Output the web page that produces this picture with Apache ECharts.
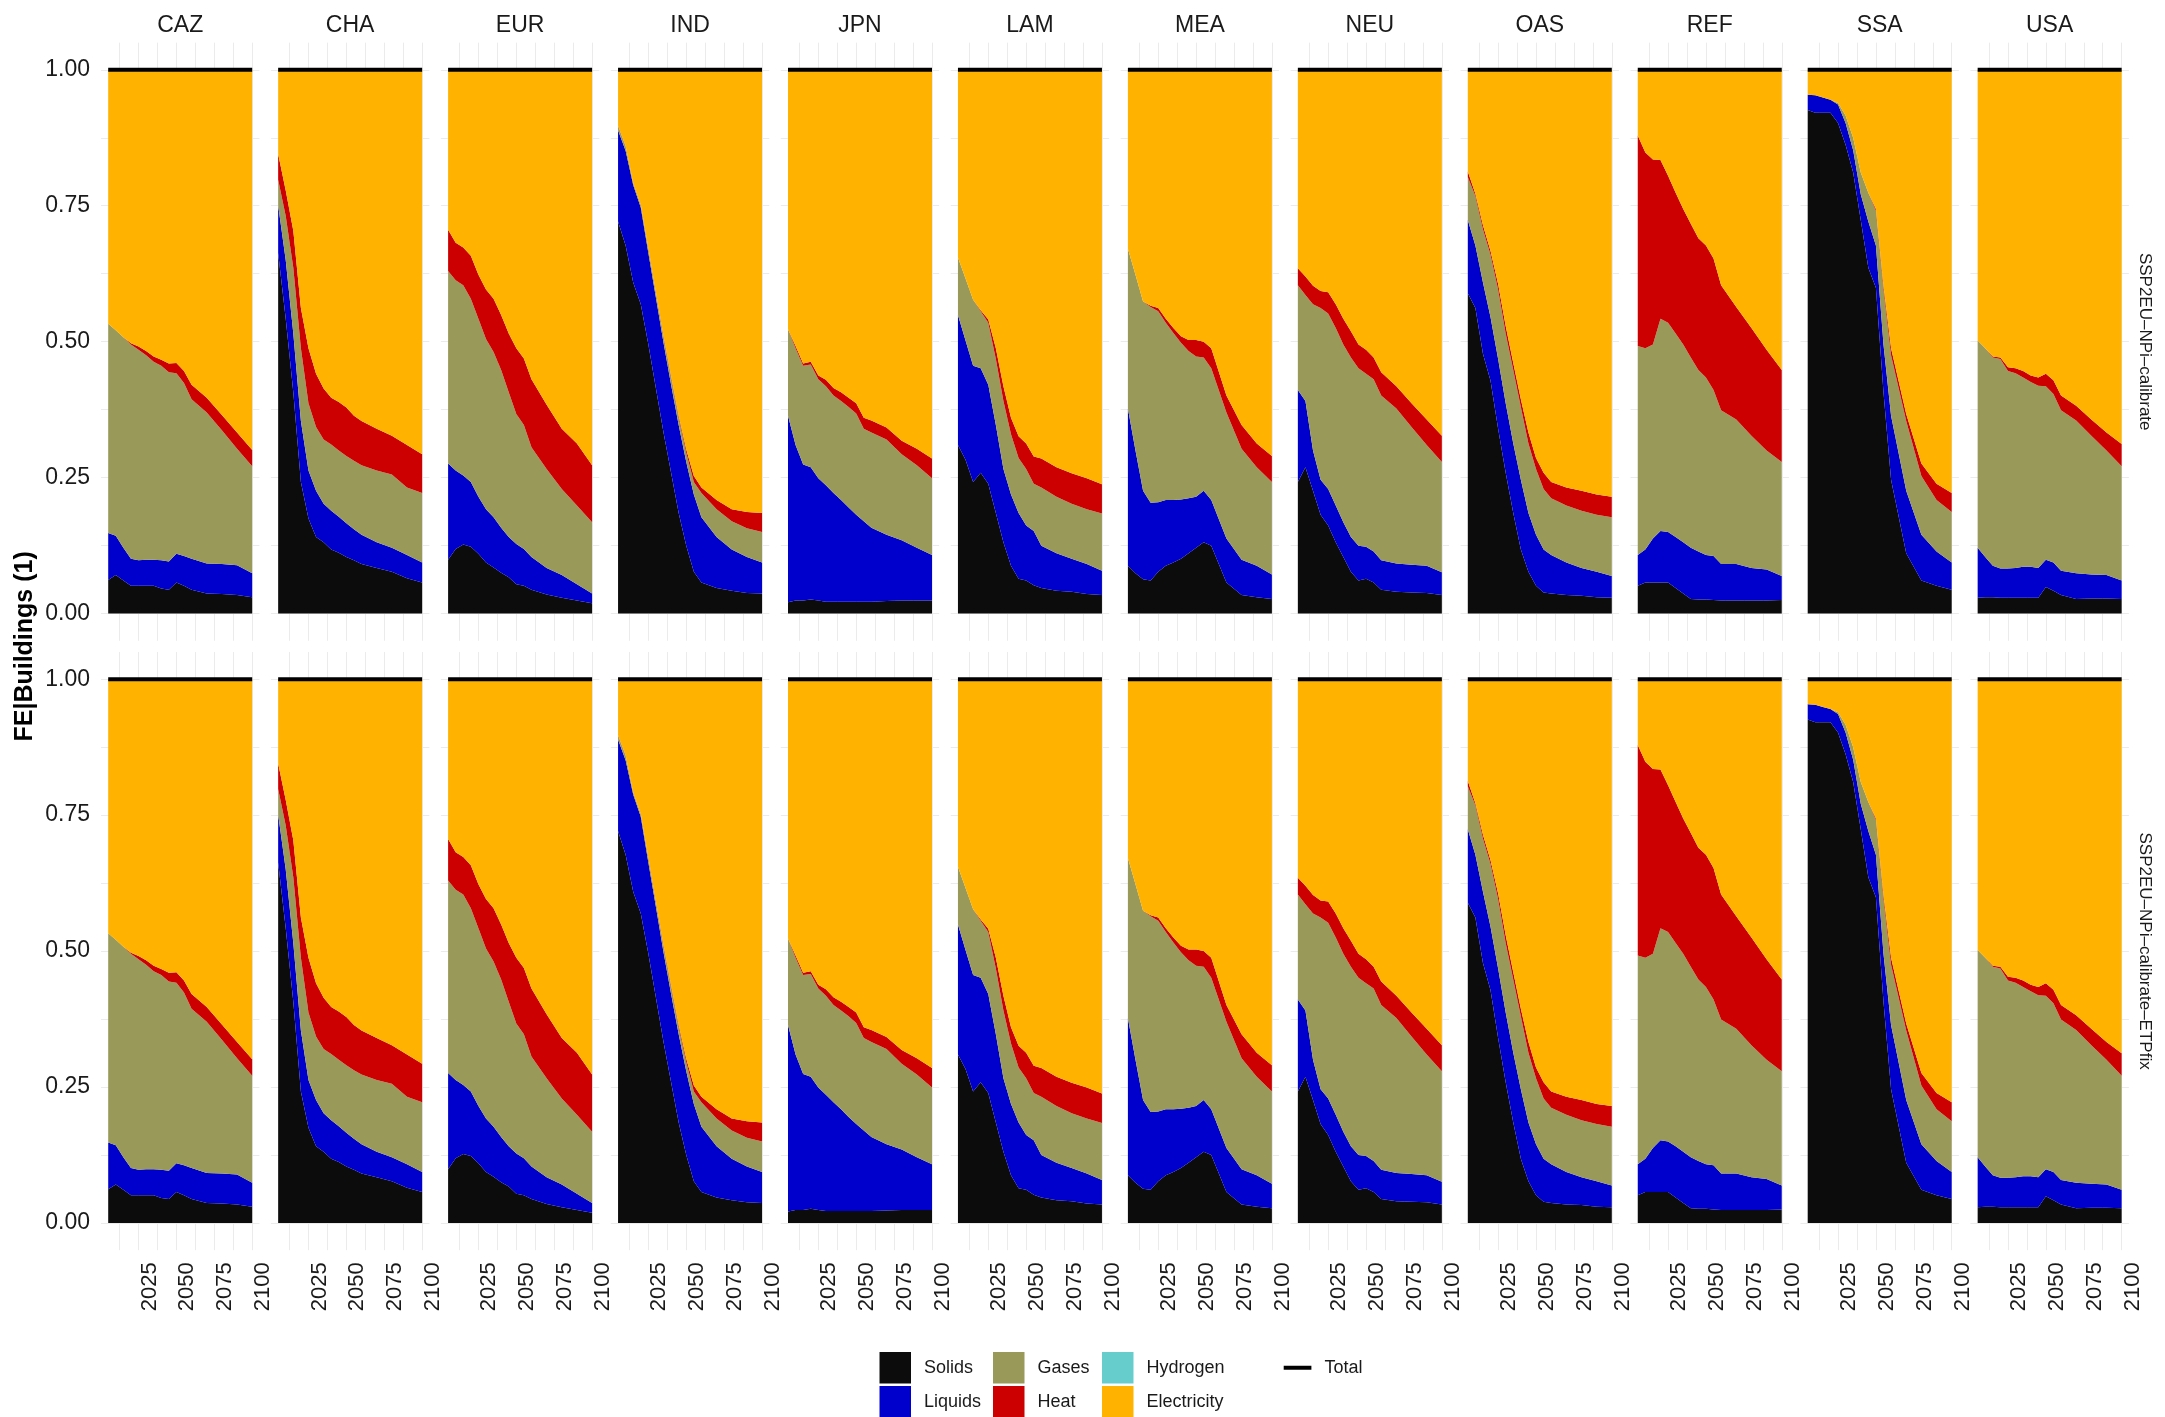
<!DOCTYPE html>
<html><head><meta charset="utf-8">
<script src="https://cdn.jsdelivr.net/npm/echarts@6/dist/echarts.min.js"></script>
<style>html,body{margin:0;padding:0;background:#fff}#chart{width:2165px;height:1417px}</style>
</head><body><div id="chart"></div>
<script>
const years = [2005,2010,2015,2020,2025,2030,2035,2040,2045,2050,2055,2060,2070,2080,2090,2100];
const regions = ['CAZ','CHA','EUR','IND','JPN','LAM','MEA','NEU','OAS','REF','SSA','USA'];
const scenarios = ['SSP2EU–NPi–calibrate','SSP2EU–NPi–calibrate–ETPfix'];
const yTickLabels = [0, 0.25, 0.5, 0.75, 1];
const yGridValues = [0, 0.125, 0.25, 0.375, 0.5, 0.625, 0.75, 0.875, 1];
const xTickLabels = [2025, 2050, 2075, 2100];
const xGridValues = [2012.5, 2025, 2037.5, 2050, 2062.5, 2075, 2087.5, 2100];

const solids = {
  CAZ:[0.062,0.071,0.061,0.051,0.051,0.051,0.051,0.046,0.044,0.057,0.051,0.044,0.037,0.036,0.034,0.030],
  CHA:[0.663,0.542,0.407,0.242,0.175,0.141,0.131,0.118,0.112,0.104,0.098,0.091,0.084,0.077,0.065,0.057],
  EUR:[0.099,0.119,0.127,0.123,0.110,0.094,0.085,0.075,0.067,0.054,0.051,0.044,0.035,0.029,0.024,0.019],
  IND:[0.721,0.677,0.609,0.569,0.495,0.414,0.333,0.259,0.185,0.125,0.077,0.057,0.047,0.042,0.038,0.037],
  JPN:[0.021,0.024,0.024,0.026,0.024,0.022,0.022,0.022,0.022,0.022,0.022,0.022,0.023,0.024,0.024,0.024],
  LAM:[0.310,0.283,0.242,0.259,0.239,0.185,0.131,0.088,0.064,0.061,0.052,0.047,0.042,0.040,0.036,0.034],
  MEA:[0.088,0.074,0.063,0.061,0.077,0.088,0.094,0.101,0.111,0.121,0.131,0.125,0.057,0.034,0.030,0.027],
  NEU:[0.242,0.269,0.226,0.182,0.162,0.131,0.104,0.077,0.061,0.064,0.057,0.044,0.040,0.039,0.038,0.034],
  OAS:[0.589,0.562,0.478,0.428,0.340,0.259,0.185,0.118,0.077,0.051,0.039,0.037,0.034,0.033,0.030,0.029],
  REF:[0.051,0.057,0.057,0.057,0.057,0.047,0.037,0.027,0.026,0.026,0.025,0.024,0.024,0.024,0.024,0.025],
  SSA:[0.926,0.921,0.921,0.921,0.902,0.862,0.811,0.724,0.636,0.599,0.407,0.246,0.111,0.061,0.051,0.044],
  USA:[0.029,0.030,0.030,0.029,0.029,0.029,0.029,0.029,0.029,0.049,0.042,0.034,0.027,0.028,0.028,0.027]
};
const liquids = {
  CAZ:[0.086,0.072,0.060,0.050,0.047,0.048,0.048,0.052,0.052,0.053,0.055,0.057,0.055,0.055,0.055,0.044],
  CHA:[0.088,0.108,0.108,0.112,0.088,0.085,0.071,0.071,0.066,0.062,0.057,0.054,0.047,0.044,0.043,0.037],
  EUR:[0.177,0.144,0.127,0.119,0.105,0.098,0.092,0.083,0.074,0.074,0.068,0.060,0.049,0.042,0.030,0.018],
  IND:[0.168,0.174,0.179,0.178,0.168,0.167,0.165,0.162,0.162,0.154,0.142,0.120,0.094,0.076,0.066,0.057],
  JPN:[0.343,0.286,0.250,0.243,0.225,0.214,0.200,0.187,0.173,0.160,0.148,0.136,0.122,0.111,0.097,0.084],
  LAM:[0.239,0.219,0.214,0.192,0.182,0.162,0.135,0.131,0.121,0.101,0.100,0.078,0.069,0.061,0.055,0.045],
  MEA:[0.289,0.226,0.163,0.143,0.128,0.121,0.115,0.109,0.101,0.094,0.095,0.084,0.081,0.065,0.058,0.045],
  NEU:[0.169,0.122,0.074,0.064,0.067,0.068,0.064,0.064,0.064,0.059,0.057,0.054,0.052,0.051,0.050,0.042],
  OAS:[0.135,0.115,0.131,0.117,0.128,0.128,0.128,0.128,0.108,0.094,0.079,0.071,0.060,0.051,0.047,0.040],
  REF:[0.057,0.061,0.081,0.095,0.093,0.094,0.094,0.094,0.088,0.082,0.081,0.067,0.067,0.060,0.057,0.044],
  SSA:[0.028,0.032,0.028,0.024,0.034,0.040,0.041,0.047,0.085,0.078,0.088,0.118,0.115,0.084,0.063,0.050],
  USA:[0.092,0.074,0.058,0.054,0.054,0.055,0.057,0.057,0.055,0.050,0.052,0.045,0.047,0.044,0.043,0.034]
};
const gases = {
  CAZ:[0.385,0.378,0.387,0.394,0.387,0.376,0.364,0.358,0.348,0.332,0.318,0.293,0.278,0.246,0.214,0.197],
  CHA:[0.047,0.081,0.121,0.134,0.124,0.117,0.118,0.122,0.122,0.124,0.126,0.128,0.132,0.135,0.124,0.128],
  EUR:[0.354,0.350,0.350,0.337,0.327,0.313,0.304,0.290,0.266,0.239,0.228,0.202,0.182,0.158,0.145,0.131],
  IND:[0.007,0.008,0.003,0.004,0.007,0.008,0.010,0.013,0.013,0.017,0.023,0.045,0.051,0.052,0.053,0.056],
  JPN:[0.159,0.178,0.182,0.189,0.182,0.182,0.179,0.182,0.185,0.186,0.170,0.175,0.175,0.158,0.152,0.141],
  LAM:[0.106,0.114,0.121,0.105,0.114,0.121,0.125,0.111,0.101,0.104,0.087,0.107,0.104,0.101,0.101,0.105],
  MEA:[0.294,0.323,0.348,0.360,0.351,0.326,0.307,0.288,0.271,0.258,0.245,0.242,0.232,0.204,0.181,0.170],
  NEU:[0.193,0.195,0.269,0.316,0.323,0.326,0.327,0.330,0.326,0.318,0.317,0.303,0.285,0.253,0.222,0.203],
  OAS:[0.079,0.091,0.098,0.115,0.128,0.128,0.135,0.134,0.128,0.121,0.111,0.104,0.105,0.105,0.105,0.108],
  REF:[0.384,0.370,0.357,0.390,0.385,0.374,0.364,0.350,0.334,0.326,0.305,0.283,0.266,0.243,0.219,0.210],
  SSA:[0.000,0.000,0.000,0.000,0.003,0.014,0.023,0.040,0.053,0.064,0.101,0.111,0.128,0.108,0.095,0.093],
  USA:[0.381,0.384,0.383,0.385,0.363,0.358,0.348,0.340,0.335,0.319,0.310,0.295,0.281,0.255,0.229,0.210]
};
const heat = {
  CAZ:[0.000,0.000,0.000,0.002,0.006,0.008,0.010,0.011,0.016,0.019,0.022,0.027,0.027,0.028,0.030,0.030],
  CHA:[0.047,0.047,0.068,0.074,0.101,0.098,0.094,0.086,0.089,0.089,0.083,0.081,0.077,0.071,0.078,0.071],
  EUR:[0.076,0.069,0.069,0.079,0.081,0.091,0.098,0.101,0.108,0.121,0.122,0.125,0.118,0.111,0.114,0.105],
  IND:[0.001,0.001,0.001,0.001,0.002,0.002,0.003,0.003,0.004,0.006,0.011,0.010,0.017,0.022,0.030,0.035],
  JPN:[0.000,0.004,0.004,0.005,0.007,0.012,0.014,0.016,0.017,0.019,0.020,0.022,0.022,0.025,0.030,0.036],
  LAM:[0.000,0.000,0.000,0.002,0.006,0.020,0.027,0.030,0.040,0.047,0.050,0.053,0.054,0.056,0.057,0.054],
  MEA:[0.000,0.000,0.000,0.002,0.006,0.007,0.009,0.012,0.020,0.030,0.029,0.037,0.031,0.044,0.044,0.048],
  NEU:[0.031,0.034,0.034,0.031,0.039,0.044,0.047,0.048,0.044,0.044,0.040,0.043,0.041,0.044,0.047,0.048],
  OAS:[0.010,0.004,0.007,0.007,0.010,0.014,0.013,0.014,0.020,0.020,0.030,0.030,0.033,0.037,0.037,0.038],
  REF:[0.387,0.360,0.340,0.292,0.270,0.259,0.249,0.246,0.242,0.243,0.242,0.230,0.207,0.198,0.185,0.169],
  SSA:[0.000,0.000,0.000,0.000,0.000,0.000,0.000,0.000,0.000,0.003,0.007,0.013,0.013,0.023,0.030,0.035],
  USA:[0.000,0.000,0.002,0.003,0.007,0.009,0.012,0.012,0.015,0.023,0.025,0.027,0.027,0.030,0.033,0.041]
};
const hydrogen = [0,0,0,0,0,0,0,0,0,0,0,0,0,0,0,0];
const electricity = {
  CAZ:[0.467,0.479,0.492,0.503,0.509,0.517,0.527,0.533,0.540,0.539,0.554,0.579,0.603,0.635,0.667,0.699],
  CHA:[0.155,0.222,0.296,0.438,0.512,0.559,0.586,0.603,0.611,0.621,0.636,0.646,0.660,0.673,0.690,0.707],
  EUR:[0.294,0.318,0.327,0.342,0.377,0.404,0.421,0.451,0.485,0.512,0.531,0.569,0.616,0.660,0.687,0.727],
  IND:[0.103,0.140,0.208,0.248,0.328,0.409,0.489,0.563,0.636,0.698,0.747,0.768,0.791,0.808,0.813,0.815],
  JPN:[0.477,0.508,0.540,0.537,0.562,0.570,0.585,0.593,0.603,0.613,0.640,0.645,0.658,0.682,0.697,0.715],
  LAM:[0.345,0.384,0.423,0.442,0.459,0.512,0.582,0.640,0.674,0.687,0.711,0.715,0.731,0.742,0.751,0.762],
  MEA:[0.329,0.377,0.426,0.434,0.438,0.458,0.475,0.490,0.497,0.497,0.500,0.512,0.599,0.653,0.687,0.710],
  NEU:[0.365,0.380,0.397,0.407,0.409,0.431,0.458,0.481,0.505,0.515,0.529,0.556,0.582,0.613,0.643,0.673],
  OAS:[0.187,0.228,0.286,0.333,0.394,0.471,0.539,0.606,0.667,0.714,0.741,0.758,0.768,0.774,0.781,0.785],
  REF:[0.121,0.152,0.165,0.166,0.195,0.226,0.256,0.283,0.310,0.323,0.347,0.396,0.436,0.475,0.515,0.552],
  SSA:[0.046,0.047,0.051,0.055,0.061,0.084,0.125,0.189,0.226,0.256,0.397,0.512,0.633,0.724,0.761,0.778],
  USA:[0.498,0.512,0.527,0.529,0.547,0.549,0.554,0.562,0.566,0.559,0.571,0.599,0.618,0.643,0.667,0.688]
};
const total = [1,1,1,1,1,1,1,1,1,1,1,1,1,1,1,1];

// both scenarios
const scenarioData = [
  {solids, liquids, gases, heat, electricity},
  {solids, liquids, gases, heat, electricity}
];

const carriers = [
  {name:'Solids', key:'solids', color:'#0c0c0c'},
  {name:'Liquids', key:'liquids', color:'#0000cc'},
  {name:'Gases', key:'gases', color:'#999959'},
  {name:'Heat', key:'heat', color:'#cc0000'},
  {name:'Hydrogen', key:'hydrogen', color:'#66cccc'},
  {name:'Electricity', key:'electricity', color:'#ffb200'}
];

const FONT = '"Liberation Sans", Arial, Helvetica, sans-serif';
const TXT = '#1a1a1a';
const PANEL_LEFT0 = 101, PANEL_PITCH = 169.95, PANEL_W = 158.4;
const ROW_TOP = [42.6, 652], PANEL_H = 598.2;

const grids = [], xAxes = [], yAxes = [], series = [], graphics = [];
scenarios.forEach((scen, r) => {
  regions.forEach((reg, c) => {
    const gi = r * regions.length + c;
    grids.push({left: PANEL_LEFT0 + c * PANEL_PITCH, top: ROW_TOP[r], width: PANEL_W, height: PANEL_H,
      containLabel: false, outerBoundsMode: 'none'});
    xAxes.push({type:'value', gridIndex: gi, min: 2000.25, max: 2104.75,
      axisLine:{show:false}, axisTick:{show:false, customValues: xGridValues},
      splitLine:{show:true, lineStyle:{color:'#ebebeb', width:1}},
      axisLabel:{show: r === 1, customValues: xTickLabels, rotate: 90, margin: 12, verticalAlign: 'top',
        fontSize: 22, color: TXT, fontFamily: FONT, formatter: v => String(v)}});
    yAxes.push({type:'value', gridIndex: gi, min: -0.05, max: 1.05,
      axisLine:{show:false}, axisTick:{show:false, customValues: yGridValues},
      splitLine:{show:true, lineStyle:{color:'#ebebeb', width:1}},
      axisLabel:{show: c === 0, customValues: yTickLabels, margin: 11, fontSize: 23, color: TXT, fontFamily: FONT,
        formatter: v => v.toFixed(2)}});
    const d = scenarioData[r];
    // value first, year second: the stacked dimension must be the share (y), not the year
    carriers.forEach(car => {
      const vals = car.key === 'hydrogen' ? hydrogen : d[car.key][reg];
      series.push({type:'line', name: car.name, xAxisIndex: gi, yAxisIndex: gi, stack: 'p' + gi,
        encode: {x: 1, y: 0},
        data: years.map((y, i) => [vals[i], y]), symbol:'none', showSymbol:false,
        lineStyle:{width:0}, itemStyle:{color: car.color}, areaStyle:{color: car.color, opacity: 1},
        emphasis:{disabled:true}, silent:true, z: 2});
    });
    series.push({type:'line', name:'Total', xAxisIndex: gi, yAxisIndex: gi,
      data: years.map((y, i) => [y, total[i]]), symbol:'none', showSymbol:false,
      lineStyle:{color:'#000', width:4}, itemStyle:{color:'#000'}, emphasis:{disabled:true}, silent:true, z: 3});
  });
});

regions.forEach((reg, c) => {
  graphics.push({type:'text', x: PANEL_LEFT0 + c * PANEL_PITCH + PANEL_W / 2, y: 26,
    style:{text: reg, fontSize: 23, fontFamily: FONT, fill: TXT, align:'center', verticalAlign:'middle'}});
});
scenarios.forEach((scen, r) => {
  graphics.push({type:'text', x: 2145, y: ROW_TOP[r] + PANEL_H / 2, rotation: -Math.PI / 2,
    style:{text: scen, fontSize: 17, fontFamily: FONT, fill: TXT, align:'center', verticalAlign:'middle'}});
});
graphics.push({type:'text', x: 25, y: (ROW_TOP[0] + ROW_TOP[1] + PANEL_H) / 2, rotation: Math.PI / 2,
  style:{text: 'FE|Buildings (1)', fontSize: 25, fontWeight: 'bold', fontFamily: FONT, fill: '#000', align:'center', verticalAlign:'middle'}});

const legendBase = {orient:'vertical', top: 1352, height: 67, padding: 0, itemWidth: 31.5, itemHeight: 31.5, itemGap: 2.5, icon:'rect',
  selectedMode: false, textStyle:{fontSize: 18, fontFamily: FONT, color: TXT, padding:[0,0,0,8]}};
const legends = [
  Object.assign({}, legendBase, {left: 879.5, data: ['Solids','Liquids']}),
  Object.assign({}, legendBase, {left: 993, data: ['Gases','Heat']}),
  Object.assign({}, legendBase, {left: 1102, data: ['Hydrogen','Electricity']}),
  Object.assign({}, legendBase, {left: 1283.7, itemWidth: 27.7, itemHeight: 4, data: ['Total'],
    textStyle:{fontSize: 18, fontFamily: FONT, color: TXT, padding:[0,0,0,8], lineHeight: 31.5}})
];

const chart = echarts.init(document.getElementById('chart'), null, {renderer:'canvas'});
chart.setOption({
  animation: false,
  backgroundColor: '#ffffff',
  grid: grids, xAxis: xAxes, yAxis: yAxes, series: series,
  legend: legends, graphic: graphics
});
</script>
</body></html>
